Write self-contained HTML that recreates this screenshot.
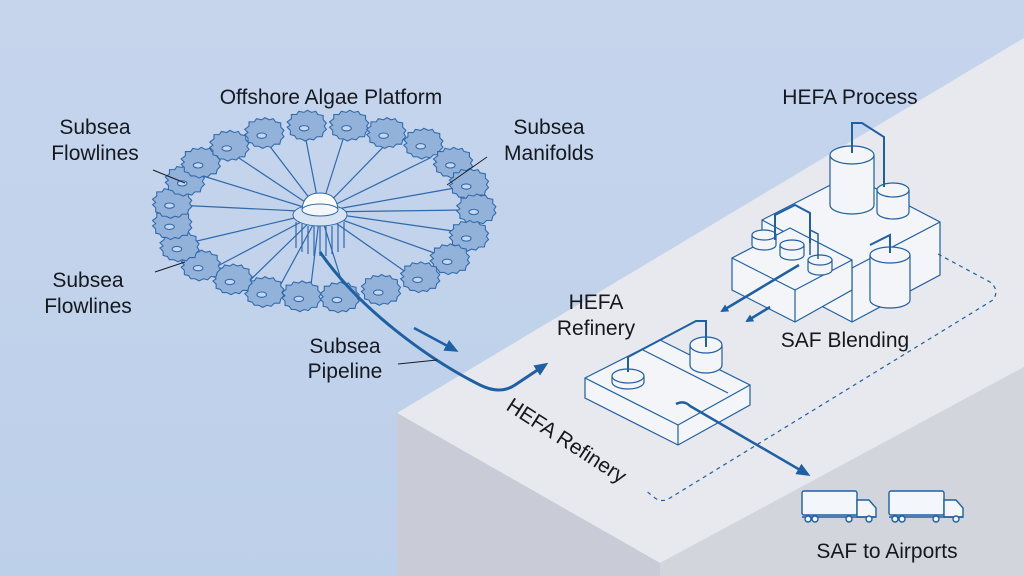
<!DOCTYPE html>
<html><head><meta charset="utf-8"><style>
html,body{margin:0;padding:0;}
body{width:1024px;height:576px;overflow:hidden;background:linear-gradient(180deg,#c6d5ec,#bdd0ea);font-family:"Liberation Sans",sans-serif;}
svg{display:block}
text{font-family:"Liberation Sans",sans-serif;fill:#15181f;}
</style></head><body>
<svg width="1024" height="576" viewBox="0 0 1024 576" xmlns="http://www.w3.org/2000/svg">
<defs>
<marker id="ah" markerWidth="8" markerHeight="8" refX="6" refY="4" orient="auto" markerUnits="userSpaceOnUse"><path d="M0,0 L8,4 L0,8 Z" fill="#1f5fa3"/></marker>
<marker id="ah2" markerWidth="14" markerHeight="12" refX="10" refY="6" orient="auto" markerUnits="userSpaceOnUse"><path d="M0,0 L14,6 L0,12 Z" fill="#1f5fa3"/></marker>
<g id="gear"><path d="M-13,-3 l-3,-3 l4,-3 l0,-4 l5,0 l2,-3 l5,1 l3,-2 l4,2 l4,-1 l2,3 l5,1 l0,4 l3,3 l-2,3 l2,3 l-3,3 l-1,4 l-5,0 l-3,3 l-4,-1 l-4,2 l-4,-2 l-4,0 l-2,-3 l-4,-1 l0,-4 l-3,-3 z" fill="#93b2da" stroke="#2e69ad" stroke-width="1"/><ellipse cx="0" cy="0" rx="4.5" ry="2.5" fill="#c6d6ee" stroke="#2e69ad" stroke-width="1"/></g>
</defs>
<polygon points="397,413 1024,38 1024,367 660,563" fill="#e7e9ee"/>
<polygon points="397,413 660,563 660,576 397,576" fill="#c9ccd6"/>
<polygon points="660,563 1024,367 1024,576 660,576" fill="#d3d5dc"/>
<g stroke="#2e69ad" stroke-width="1.2">
<line x1="320" y1="212" x2="190" y2="172"/><line x1="320" y1="212" x2="175" y2="205"/><line x1="320" y1="212" x2="180" y2="245"/><line x1="320" y1="212" x2="210" y2="270"/><line x1="320" y1="212" x2="240" y2="290"/><line x1="320" y1="212" x2="275" y2="295"/><line x1="320" y1="212" x2="310" y2="293"/><line x1="320" y1="212" x2="345" y2="292"/><line x1="320" y1="212" x2="410" y2="275"/><line x1="320" y1="212" x2="440" y2="255"/><line x1="320" y1="212" x2="460" y2="232"/><line x1="320" y1="212" x2="465" y2="210"/><line x1="320" y1="212" x2="455" y2="188"/><line x1="320" y1="212" x2="430" y2="158"/><line x1="320" y1="212" x2="390" y2="140"/><line x1="320" y1="212" x2="345" y2="133"/><line x1="320" y1="212" x2="305" y2="135"/><line x1="320" y1="212" x2="265" y2="140"/><line x1="320" y1="212" x2="230" y2="152"/>
</g>
<g transform="translate(320 212) scale(1.06) translate(-320 -212)">
<use href="#gear" x="265" y="140"/><use href="#gear" x="305" y="133"/><use href="#gear" x="345" y="133"/><use href="#gear" x="380" y="140"/><use href="#gear" x="415" y="150"/><use href="#gear" x="443" y="168"/><use href="#gear" x="458" y="188"/><use href="#gear" x="465" y="212"/><use href="#gear" x="458" y="237"/><use href="#gear" x="440" y="259"/><use href="#gear" x="412" y="276"/><use href="#gear" x="375" y="288"/><use href="#gear" x="336" y="295"/><use href="#gear" x="300" y="294"/><use href="#gear" x="265" y="290"/><use href="#gear" x="235" y="278"/><use href="#gear" x="205" y="265"/><use href="#gear" x="185" y="247"/><use href="#gear" x="178" y="226"/><use href="#gear" x="178" y="206"/><use href="#gear" x="190" y="185"/><use href="#gear" x="205" y="168"/><use href="#gear" x="232" y="152"/>
</g>
<g stroke="#2e69ad" stroke-width="1">
<g stroke-width="1.2"><line x1="296" y1="222" x2="296" y2="248"/><line x1="302" y1="224" x2="302" y2="252"/><line x1="308" y1="226" x2="308" y2="254"/><line x1="314" y1="226" x2="314" y2="256"/><line x1="320" y1="226" x2="320" y2="256"/><line x1="326" y1="226" x2="326" y2="256"/><line x1="332" y1="226" x2="332" y2="254"/><line x1="338" y1="225" x2="338" y2="252"/><line x1="344" y1="222" x2="344" y2="248"/></g>
<ellipse cx="320" cy="215" rx="27" ry="11" fill="#d7e3f3"/>
<path d="M302,210 Q303,193 320,193 Q337,193 338,210 Z" fill="#fff"/>
<ellipse cx="320" cy="210" rx="18" ry="6" fill="#f4f7fb"/>
</g>
<path d="M320,252 C360,310 430,360 480,385 Q500,395 515,385 L545,365" fill="none" stroke="#1f5fa3" stroke-width="3" marker-end="url(#ah2)"/>
<line x1="414" y1="328" x2="455" y2="350" stroke="#1f5fa3" stroke-width="2.5" marker-end="url(#ah2)"/>
<g stroke="#1a1d24" stroke-width="1"><line x1="153" y1="170" x2="185" y2="183"/><line x1="155" y1="272" x2="185" y2="262"/><line x1="487" y1="157" x2="447" y2="185"/><line x1="398" y1="364" x2="437" y2="360"/></g>
<g fill="#f3f5f9" stroke="#1f5fa3" stroke-width="1.2">
<polygon points="762,220 850,175 940,222 940,275 852,322 762,275"/>
<polyline points="762,220 852,268 940,222" fill="none"/><line x1="852" y1="268" x2="852" y2="322"/>
<polygon points="732,258 790,228 852,260 852,290 795,322 732,290"/>
<polyline points="732,258 795,290 852,260" fill="none"/><line x1="795" y1="290" x2="795" y2="322"/>
<path d="M830,155 v50 a22,9 0 0 0 44,0 v-50" /><ellipse cx="852" cy="155" rx="22" ry="9"/>
<path d="M877,190 v22 a16,7 0 0 0 32,0 v-22"/><ellipse cx="893" cy="190" rx="16" ry="7"/>
<path d="M870,255 v45 a20,8 0 0 0 40,0 v-45"/><ellipse cx="890" cy="255" rx="20" ry="8"/>
<path d="M752,235 v10 a12,5 0 0 0 24,0 v-10"/><ellipse cx="764" cy="235" rx="12" ry="5"/>
<path d="M780,245 v10 a12,5 0 0 0 24,0 v-10"/><ellipse cx="792" cy="245" rx="12" ry="5"/>
<path d="M808,260 v10 a12,5 0 0 0 24,0 v-10"/><ellipse cx="820" cy="260" rx="12" ry="5"/>
<path d="M852,153 v-30 h10 l22,14 v50" fill="none" stroke-width="2"/>
<path d="M775,240 v-25 l20,-10 l15,8 v30" fill="none" stroke-width="2"/>
<path d="M810,255 v-25 l8,4 v25" fill="none" stroke-width="1.5"/>
<path d="M870,245 l20,-10 v18" fill="none" stroke-width="2"/>
</g>
<g fill="#f3f5f9" stroke="#1f5fa3" stroke-width="1.2">
<polygon points="585,378 660,340 750,385 750,405 678,445 585,398"/>
<polyline points="585,378 678,425 750,385" fill="none"/><line x1="678" y1="425" x2="678" y2="445"/>
<line x1="643" y1="350" x2="728" y2="393"/>
<path d="M690,345 v20 a16,8 0 0 0 32,0 v-20"/><ellipse cx="706" cy="345" rx="16" ry="8"/>
<path d="M612,376 v6 a16,7 0 0 0 32,0 v-6"/><ellipse cx="628" cy="376" rx="16" ry="7"/>
<path d="M628,372 v-15 l68,-36 h10 v26" fill="none" stroke-width="2"/>
</g>
<line x1="799" y1="265" x2="722" y2="311" stroke="#1f5fa3" stroke-width="2.5" marker-end="url(#ah)"/>
<line x1="770" y1="307" x2="747" y2="321" stroke="#1f5fa3" stroke-width="2.5" marker-end="url(#ah)"/>
<path d="M676,404 Q684,400 690,406 L807,474" fill="none" stroke="#1f5fa3" stroke-width="2.5" marker-end="url(#ah2)"/>
<path d="M938,254 L990,282 Q1000,290 993,300 L670,498 Q662,503 655,498 L645,490" fill="none" stroke="#1f5fa3" stroke-width="1.2" stroke-dasharray="4,4"/>
<g fill="#f3f7fc" stroke="#1f5fa3" stroke-width="1.4">
<rect x="802" y="491" width="55" height="24" rx="2"/><path d="M857,500 h12 l7,8 v9 h-19 z"/><line x1="802" y1="517" x2="876" y2="517"/>
<circle cx="808" cy="519" r="3"/><circle cx="815" cy="519" r="3"/><circle cx="849" cy="519" r="3"/><circle cx="869" cy="519" r="3"/>
<rect x="889" y="491" width="55" height="24" rx="2"/><path d="M944,500 h12 l7,8 v9 h-19 z"/><line x1="889" y1="517" x2="963" y2="517"/>
<circle cx="895" cy="519" r="3"/><circle cx="902" cy="519" r="3"/><circle cx="936" cy="519" r="3"/><circle cx="956" cy="519" r="3"/>
</g>
<g font-size="21">
<text x="331" y="104" text-anchor="middle">Offshore Algae Platform</text>
<text x="95" y="134" text-anchor="middle">Subsea</text><text x="95" y="160" text-anchor="middle">Flowlines</text>
<text x="88" y="287" text-anchor="middle">Subsea</text><text x="88" y="313" text-anchor="middle">Flowlines</text>
<text x="549" y="134" text-anchor="middle">Subsea</text><text x="549" y="160" text-anchor="middle">Manifolds</text>
<text x="345" y="353" text-anchor="middle">Subsea</text><text x="345" y="378" text-anchor="middle">Pipeline</text>
<text x="850" y="104" text-anchor="middle">HEFA Process</text>
<text x="596" y="309" text-anchor="middle">HEFA</text><text x="596" y="335" text-anchor="middle">Refinery</text>
<text x="845" y="347" text-anchor="middle">SAF Blending</text>
<text x="887" y="558" text-anchor="middle">SAF to Airports</text>
<text x="505" y="409" transform="rotate(33 505 409)">HEFA Refinery</text>
</g>
</svg>
</body></html>
